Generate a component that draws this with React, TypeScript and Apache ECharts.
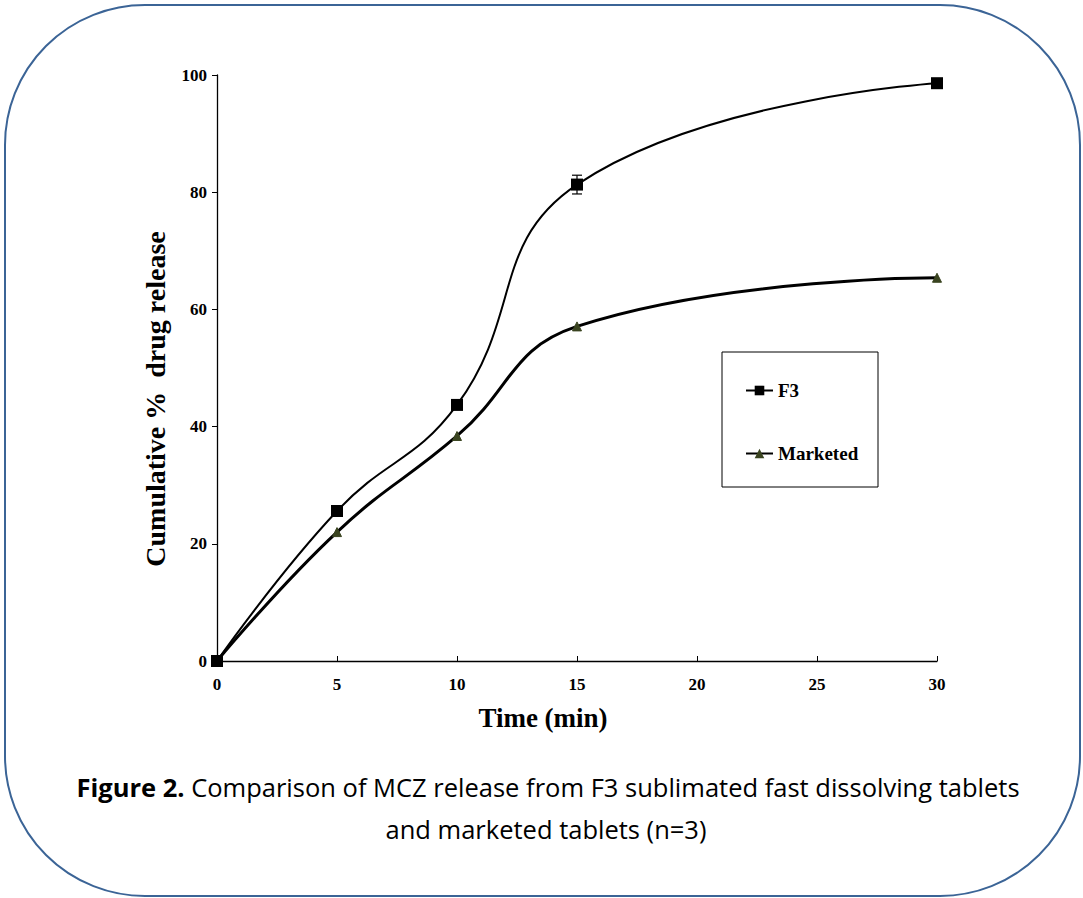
import React, { useEffect, useRef } from "react";
import * as echarts from "echarts";

const times = [0, 5, 10, 15, 30];
const f3 = [0, 25.6, 43.7, 81.3, 98.6];
const f3Err = [0, 0.5, 0.6, 1.6, 0.5];
const marketed = [0, 22.0, 38.4, 57.1, 65.4];
const xTicks = [0, 5, 10, 15, 20, 25, 30];
const yTicks = [0, 20, 40, 60, 80, 100];

const serif = "'Liberation Serif', 'Times New Roman', serif";
const sans = "'Open Sans', Lato, sans-serif";

export default function App() {
  const ref = useRef<HTMLDivElement>(null);
  useEffect(() => {
    if (!ref.current) return;
    const chart = echarts.init(ref.current, undefined, { renderer: "svg" });
    chart.setOption({
      animation: false,
      backgroundColor: "#ffffff",
      grid: { left: 217, top: 75, width: 720, height: 586, containLabel: false },
      xAxis: {
        type: "value",
        min: xTicks[0],
        max: xTicks[xTicks.length - 1],
        interval: 5,
        axisLine: { show: true, lineStyle: { color: "#000", width: 1.3 } },
        axisTick: { show: true, length: 5, inside: true, lineStyle: { color: "#000" } },
        axisLabel: {
          margin: 15,
          fontFamily: serif,
          fontWeight: "bold",
          fontSize: 17,
          color: "#000",
        },
        splitLine: { show: false },
      },
      yAxis: {
        type: "value",
        min: yTicks[0],
        max: yTicks[yTicks.length - 1],
        interval: 20,
        axisLine: { show: true, lineStyle: { color: "#000", width: 1.3 } },
        axisTick: { show: true, length: 5, lineStyle: { color: "#000" } },
        axisLabel: {
          margin: 10,
          fontFamily: serif,
          fontWeight: "bold",
          fontSize: 17,
          color: "#000",
        },
        splitLine: { show: false },
      },
      legend: {
        orient: "vertical",
        left: 740,
        top: 376,
        itemGap: 44,
        itemWidth: 27,
        itemHeight: 12,
        data: ["F3", "Marketed"],
        textStyle: { fontFamily: serif, fontWeight: "bold", fontSize: 19, color: "#000" },
      },
      graphic: [
        {
          type: "rect",
          shape: { x: 5, y: 5, width: 1075, height: 891, r: 140 },
          style: { fill: "none", stroke: "#3b6496", lineWidth: 2 },
          z: 0,
        },
        {
          type: "rect",
          shape: { x: 722, y: 352, width: 156, height: 135 },
          style: { fill: "none", stroke: "#000", lineWidth: 1 },
          z: 0,
        },
        {
          type: "text",
          x: 543,
          y: 718,
          style: {
            text: "Time (min)",
            font: `bold 27px ${serif}`,
            fill: "#000",
            align: "center",
            verticalAlign: "middle",
          },
        },
        {
          type: "text",
          x: 155,
          y: 399,
          rotation: Math.PI / 2,
          style: {
            text: "Cumulative %  drug release",
            font: `bold 28px ${serif}`,
            fill: "#000",
            align: "center",
            verticalAlign: "middle",
          },
        },
        {
          type: "text",
          x: 548,
          y: 787,
          style: {
            text: "{b|Figure 2.} Comparison of MCZ release from F3 sublimated fast dissolving tablets",
            fontFamily: sans,
            fontSize: 25.5,
            fill: "#000",
            align: "center",
            verticalAlign: "middle",
            rich: {
              b: { fontFamily: sans, fontSize: 25.5, fontWeight: "bold", fill: "#000" },
            },
          },
        },
        {
          type: "text",
          x: 546,
          y: 829,
          style: {
            text: "and marketed tablets (n=3)",
            fontFamily: sans,
            fontSize: 25.5,
            fill: "#000",
            align: "center",
            verticalAlign: "middle",
          },
        },
      ],
      series: [
        {
          name: "Marketed",
          type: "line",
          smooth: 0.45,
          data: times.map((t, i) => [t, marketed[i]]),
          symbol: "triangle",
          symbolSize: 9,
          lineStyle: { color: "#000", width: 3 },
          itemStyle: { color: "#3a4420", borderColor: "#3a4420" },
          z: 2,
        },
        {
          name: "F3",
          type: "line",
          smooth: 0.45,
          data: times.map((t, i) => [t, f3[i]]),
          symbol: "rect",
          symbolSize: 12,
          lineStyle: { color: "#000", width: 2 },
          itemStyle: { color: "#000" },
          z: 3,
        },
        {
          name: "F3 err",
          type: "custom",
          data: times.map((t, i) => [t, f3[i] - f3Err[i], f3[i] + f3Err[i]]),
          renderItem: (params: any, api: any) => {
            const x = api.value(0);
            const lo = api.coord([x, api.value(1)]);
            const hi = api.coord([x, api.value(2)]);
            const w = 5;
            return {
              type: "group",
              children: [
                { type: "line", shape: { x1: lo[0], y1: lo[1], x2: hi[0], y2: hi[1] }, style: { stroke: "#000", lineWidth: 1.2 } },
                { type: "line", shape: { x1: lo[0] - w, y1: lo[1], x2: lo[0] + w, y2: lo[1] }, style: { stroke: "#000", lineWidth: 1.2 } },
                { type: "line", shape: { x1: hi[0] - w, y1: hi[1], x2: hi[0] + w, y2: hi[1] }, style: { stroke: "#000", lineWidth: 1.2 } },
              ],
            };
          },
          z: 4,
        },
      ],
    });
    return () => chart.dispose();
  }, []);
  return (
    <div
      ref={ref}
      style={{ position: "absolute", left: 0, top: 0, width: 1083, height: 898 }}
    />
  );
}
